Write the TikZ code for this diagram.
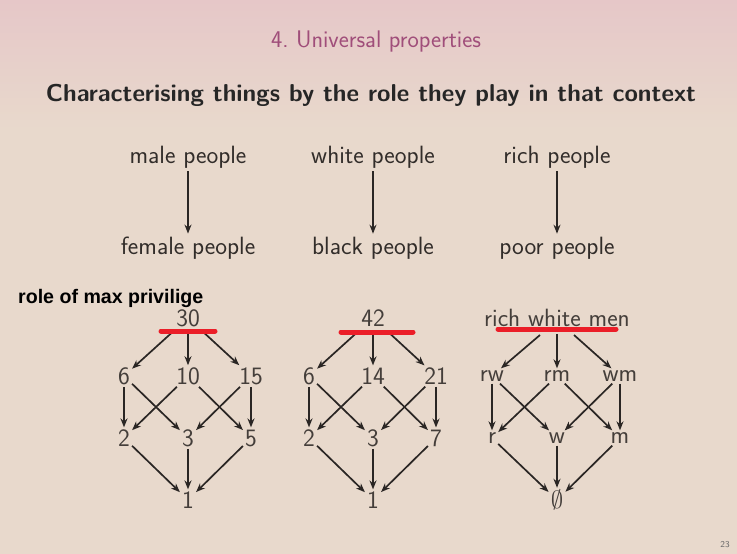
\documentclass[tikz,border=0pt]{standalone}
\usepackage{fontspec}
\newfontfamily\arialbold{Liberation Sans}
\usetikzlibrary{arrows.meta}
\definecolor{bgtop}{RGB}{230,199,200}
\definecolor{bgbot}{RGB}{232,217,204}
\definecolor{titlec}{RGB}{160,78,122}
\definecolor{txt}{RGB}{50,45,42}
\definecolor{numc}{RGB}{68,62,58}
\definecolor{redline}{RGB}{235,30,40}
\tikzset{
  lbl/.style={font=\sffamily\fontsize{25}{28}\selectfont, text=txt, inner sep=3pt},
  num/.style={font=\sffamily\fontsize{25}{28}\selectfont, text=numc, inner sep=2pt},
  arr/.style={-{Stealth[length=9pt,width=7pt]}, line width=1.7pt, draw=txt!85!black},
  toparr/.style={arr, shorten <=5pt},
  hl/.style={draw=redline, line width=5pt, line cap=round}
}
\begin{document}
\begin{tikzpicture}[x=1pt,y=-1pt]
\useasboundingbox (0,0) rectangle (737,554);
\fill[bgbot] (0,0) rectangle (737,554);
\shade[top color=bgtop, bottom color=bgbot] (0,0) rectangle (737,130);
% titles
\node[font=\sffamily\fontsize{24}{27}\selectfont, text=titlec] (title) at (376,42) {4.~Universal properties};
\node[font=\sffamily\bfseries\fontsize{24.4}{28}\selectfont, text=black!85] (ftitle) at (371,95) {Characterising things by the role they play in that context};
% top pairs
\node[lbl] (male) at (188,157) {male people};
\node[lbl] (white) at (373,157) {white people};
\node[lbl] (rich) at (557,157) {rich people};
\node[lbl] (female) at (188,248) {female people};
\node[lbl] (black) at (373,248) {black people};
\node[lbl] (poor) at (557,248) {poor people};
\draw[arr] (male) -- (female);
\draw[arr] (white) -- (black);
\draw[arr] (rich) -- (poor);
% annotation
\node[font=\arialbold\bfseries\fontsize{19.6}{22}\selectfont, text=black, anchor=west, inner sep=0pt] (role) at (18,298) {role of max privilige};
% lattice 1
\node[num] (a30) at (188,318) {30};
\node[num] (a6) at (124,376) {6};
\node[num] (a10) at (188,376) {10};
\node[num] (a15) at (251,376) {15};
\node[num] (a2) at (124,438) {2};
\node[num] (a3) at (188,438) {3};
\node[num] (a5) at (251,438) {5};
\node[num] (a1) at (188,500) {1};
% lattice 2
\node[num] (b42) at (373,318) {42};
\node[num] (b6) at (309,376) {6};
\node[num] (b14) at (373,376) {14};
\node[num] (b21) at (436,376) {21};
\node[num] (b2) at (309,438) {2};
\node[num] (b3) at (373,438) {3};
\node[num] (b7) at (436,438) {7};
\node[num] (b1) at (373,500) {1};
% lattice 3
\node[num] (c0) at (557,318) {rich white men};
\node[num] (crw) at (492,376) {rw};
\node[num] (crm) at (557,376) {rm};
\node[num] (cwm) at (620,376) {wm};
\node[num] (cr) at (492,438) {r};
\node[num] (cw) at (557,438) {w};
\node[num] (cm) at (620,438) {m};
\node[num] (ce) at (557,500) {$\emptyset$};
% edges lattice 1
\draw[toparr] (a30) -- (a6); \draw[toparr] (a30) -- (a10); \draw[toparr] (a30) -- (a15);
\draw[arr] (a6) -- (a2); \draw[arr] (a6) -- (a3);
\draw[arr] (a10) -- (a2); \draw[arr] (a10) -- (a5);
\draw[arr] (a15) -- (a3); \draw[arr] (a15) -- (a5);
\draw[arr] (a2) -- (a1); \draw[arr] (a3) -- (a1); \draw[arr] (a5) -- (a1);
% edges lattice 2
\draw[toparr] (b42) -- (b6); \draw[toparr] (b42) -- (b14); \draw[toparr] (b42) -- (b21);
\draw[arr] (b6) -- (b2); \draw[arr] (b6) -- (b3);
\draw[arr] (b14) -- (b2); \draw[arr] (b14) -- (b7);
\draw[arr] (b21) -- (b3); \draw[arr] (b21) -- (b7);
\draw[arr] (b2) -- (b1); \draw[arr] (b3) -- (b1); \draw[arr] (b7) -- (b1);
% edges lattice 3
\coordinate (c0l) at (540,335);
\coordinate (c0r) at (574,335);
\draw[arr] (c0l) -- (crw);
\draw[toparr] (c0) -- (crm);
\draw[arr] (c0r) -- (cwm);
\draw[arr] (crw) -- (cr); \draw[arr] (crw) -- (cw);
\draw[arr] (crm) -- (cr); \draw[arr] (crm) -- (cm);
\draw[arr] (cwm) -- (cw); \draw[arr] (cwm) -- (cm);
\draw[arr] (cr) -- (ce); \draw[arr] (cw) -- (ce); \draw[arr] (cm) -- (ce);
% red underlines
\coordinate (u1a) at (161,331); \coordinate (u1b) at (215,331);
\coordinate (u2a) at (341,332); \coordinate (u2b) at (413,332);
\coordinate (u3a) at (498,329); \coordinate (u3b) at (616,329);
\draw[hl] (u1a) -- (u1b);
\draw[hl] (u2a) -- (u2b);
\draw[hl] (u3a) -- (u3b);
% page number
\node[font=\sffamily\fontsize{9}{10}\selectfont, text=black!60] (pg) at (725,545) {23};
\end{tikzpicture}
\end{document}
